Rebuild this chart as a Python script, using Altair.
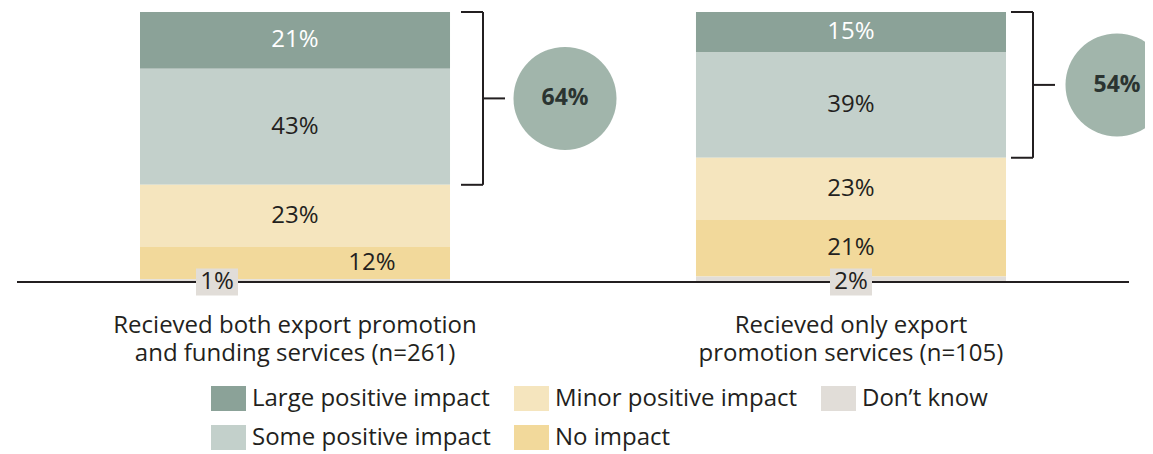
import altair as alt
import pandas as pd

# ---------------- data ----------------
categories = [
    "Recieved both export promotion\nand funding services (n=261)",
    "Recieved only export\npromotion services (n=105)",
]
impacts = [
    "Large positive impact",
    "Some positive impact",
    "Minor positive impact",
    "No impact",
    "Don’t know",
]
values_both = [21, 43, 23, 12, 1]
values_only = [15, 39, 23, 21, 2]
colors = ["#8ba298", "#c3d0cb", "#f5e5be", "#f2d99b", "#e1ddd8"]
legend_order = [
    "Large positive impact",
    "Minor positive impact",
    "Don’t know",
    "Some positive impact",
    "No impact",
]

rows = []
for ci, (cat, vals) in enumerate(zip(categories, [values_both, values_only])):
    for ii, (imp, v) in enumerate(zip(impacts, vals)):
        rows.append({"category": cat, "cat_idx": ci, "impact": imp,
                     "ord": len(impacts) - 1 - ii, "value": v})
df = pd.DataFrame(rows)

# ---------------- style ----------------
FONT = "Open Sans"
DARK = "#231f20"
CIRCLE = "#a1b5ab"
FS = 24

xscale = alt.Scale(type="band", domain=categories, range=[132, 998],
                   paddingInner=0.4424, paddingOuter=0)
X = alt.X("category:N", scale=xscale, axis=None)
yscale = alt.Scale(domain=[0, 100], nice=False, zero=True)
cscale = alt.Scale(domain=legend_order,
                   range=[colors[impacts.index(x)] for x in legend_order])

base = alt.Chart(df).transform_stack(
    stack="value", groupby=["category"], as_=["v0", "v1"],
    sort=[alt.SortField("ord", order="ascending")],
)

bars = base.mark_bar(strokeWidth=0).encode(
    x=X,
    y=alt.Y("v0:Q", scale=yscale, axis=None),
    y2="v1:Q",
    color=alt.Color(
        "impact:N", scale=cscale,
        legend=alt.Legend(
            title=None, orient="none", legendX=203, legendY=369,
            columns=3, direction="horizontal",
            symbolType="M-1,-0.714H1V0.714H-1Z", symbolSize=1225,
            symbolStrokeWidth=0, symbolOpacity=1,
            labelFont=FONT, labelFontSize=FS, labelColor=DARK,
            labelOffset=6, labelLimit=400, columnPadding=23, rowPadding=9,
            padding=0,
        ),
    ),
)

labels = base.transform_filter("datum.value >= 5").transform_calculate(
    mid="(datum.v0 + datum.v1) / 2", lbl="datum.value + '%'"
).mark_text(
    font=FONT, fontSize=FS, baseline="middle",
    dx=alt.expr("datum.cat_idx == 0 && datum.ord == 1 ? 77 : 0"),
).encode(
    x=X, y=alt.Y("mid:Q"), text="lbl:N",
    color=alt.condition("datum.ord == 4", alt.value("white"), alt.value(DARK)),
)

baseline = alt.Chart(pd.DataFrame({"z": [0]})).mark_rule(
    color=DARK, strokeWidth=2
).encode(x=alt.value(9), x2=alt.value(1121), y=alt.datum(0))

dk = base.transform_filter("datum.ord == 0").transform_calculate(
    lbl="datum.value + '%'"
)
dk_box = dk.mark_point(
    shape="M-1.556,-1H1.556V1H-1.556Z", size=729, filled=True,
    fill=colors[4], opacity=1, strokeWidth=0,
    xOffset=alt.expr("datum.cat_idx == 0 ? -78 : 0"),
).encode(x=X, y=alt.datum(0))
dk_text = dk.mark_text(
    font=FONT, fontSize=FS, color=DARK, baseline="middle",
    dx=alt.expr("datum.cat_idx == 0 ? -78 : 0"),
).encode(x=X, y=alt.datum(0), text="lbl:N")

pos = base.transform_filter("datum.ord >= 3").transform_aggregate(
    top="max(v1)", bottom="min(v0)", total="sum(value)",
    groupby=["category", "cat_idx"],
).transform_calculate(
    mid="(datum.top + datum.bottom) / 2", lbl="datum.total + '%'"
)
OFF_V = "datum.cat_idx == 0 ? 188 : 182"
OFF_H = "datum.cat_idx == 0 ? 177 : 171"
OFF_M = "datum.cat_idx == 0 ? 199 : 193"
OFF_C = "datum.cat_idx == 0 ? 270 : 266"
vline = pos.mark_rule(color=DARK, strokeWidth=2, xOffset=alt.expr(OFF_V)).encode(
    x=X, y="top:Q", y2="bottom:Q")
ttop = pos.mark_tick(orient="horizontal", size=22, thickness=2, color=DARK,
                     opacity=1, xOffset=alt.expr(OFF_H)).encode(x=X, y="top:Q")
tbot = pos.mark_tick(orient="horizontal", size=22, thickness=2, color=DARK,
                     opacity=1, xOffset=alt.expr(OFF_H)).encode(x=X, y="bottom:Q")
tmid = pos.mark_tick(orient="horizontal", size=22, thickness=2, color=DARK,
                     opacity=1, xOffset=alt.expr(OFF_M)).encode(x=X, y="mid:Q")
circ = pos.mark_circle(size=10609, color=CIRCLE, opacity=1,
                       xOffset=alt.expr(OFF_C)).encode(x=X, y="mid:Q")
ctext = pos.mark_text(font=FONT, fontSize=23, fontWeight="bold", color="#2b3431",
                      baseline="middle", xOffset=alt.expr(OFF_C)).encode(
    x=X, y="mid:Q", text="lbl:N")

cat_labels = alt.Chart(df).transform_filter("datum.ord == 0").mark_text(
    font=FONT, fontSize=FS, lineHeight=28, baseline="top", color=DARK,
    lineBreak="\n",
).encode(x=X, y=alt.value(301.5), text="category:N")

chart = alt.layer(
    bars, labels, baseline, dk_box, dk_text, vline, ttop, tbot, tmid,
    circ, ctext, cat_labels,
).properties(
    width=1137, height=270,
    padding={"left": 0, "top": 4, "right": 0, "bottom": 172},
    autosize=alt.AutoSizeParams(type="none"),
).configure_view(stroke=None)

chart.save("out.html", embed_options={"renderer": "svg", "actions": False})
